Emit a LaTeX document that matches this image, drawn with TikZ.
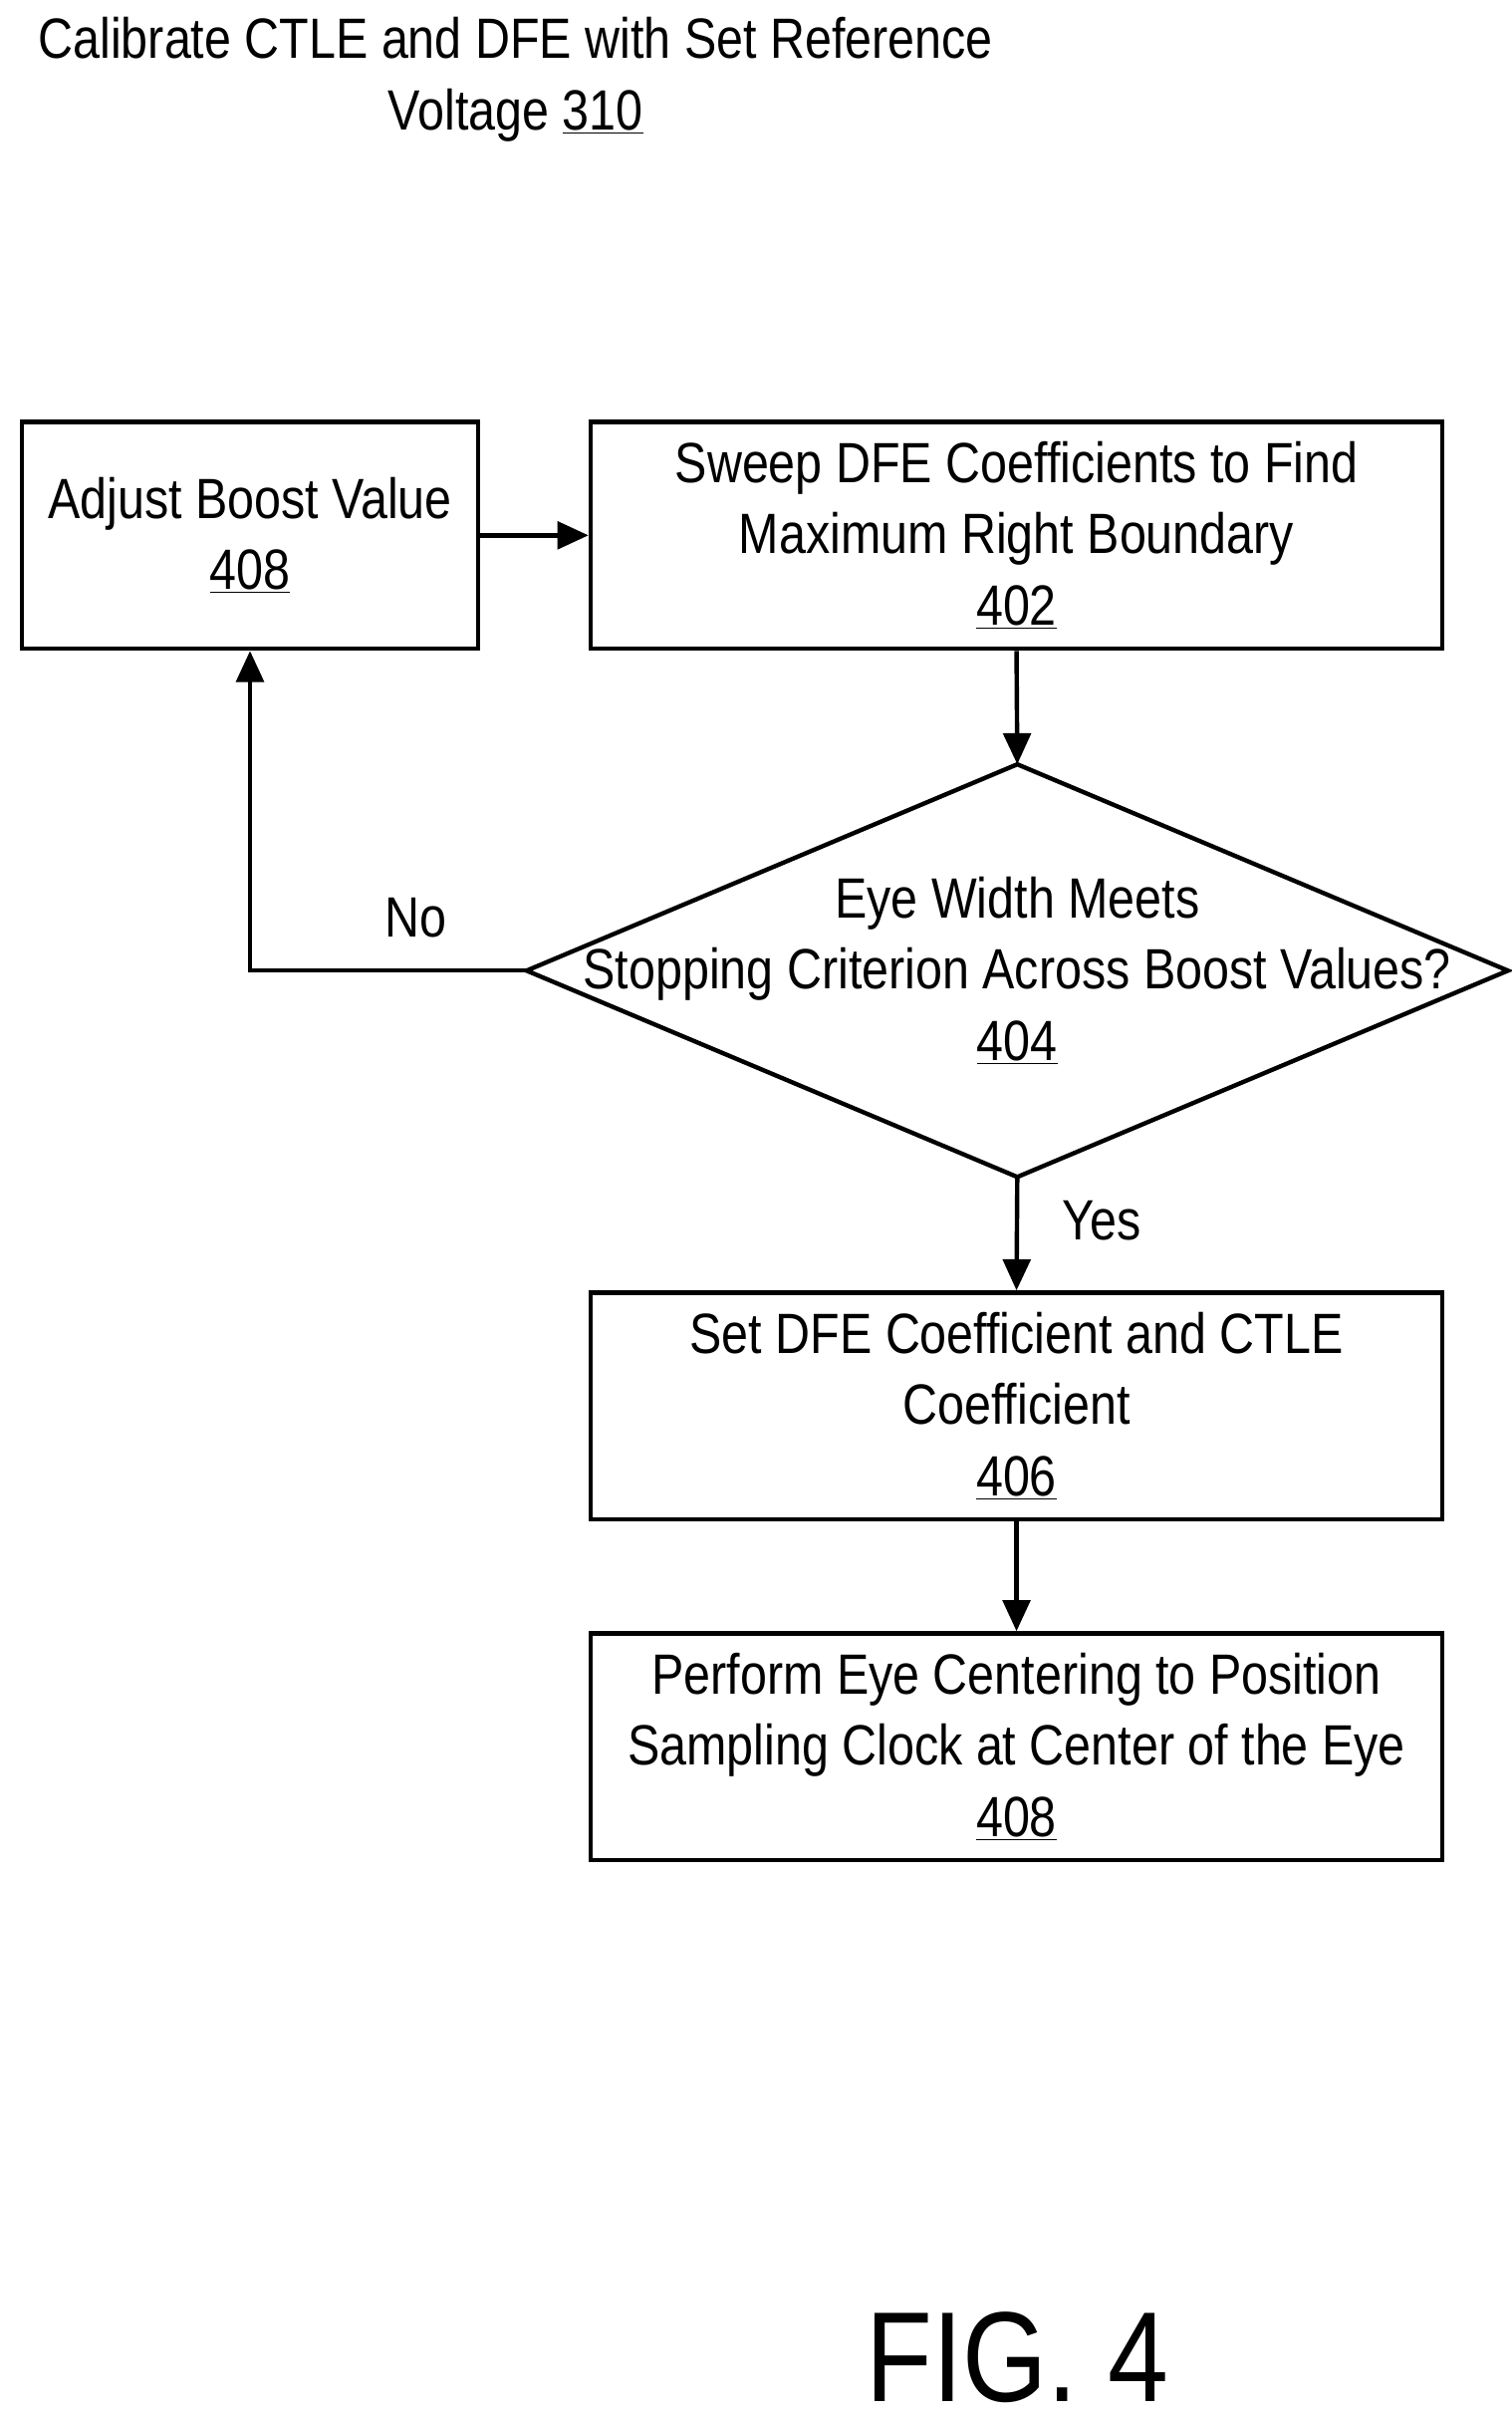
\documentclass[tikz,border=0pt]{standalone}
\usepackage{fontspec}
\setmainfont[FakeStretch=0.85]{Liberation Sans}
\usetikzlibrary{arrows.meta,shapes.geometric}
\begin{document}
\begin{tikzpicture}[x=0.03cm,y=-0.03cm,
  box/.style={draw,line width=2.4pt,minimum width=16.35cm,minimum height=4.35cm,align=center,inner sep=0pt,font=\fontsize{31}{39}\selectfont},
  lbl/.style={font=\fontsize{31}{39}\selectfont,inner sep=0pt},
  arr/.style={line width=2.4pt,-{Triangle[length=17pt,width=15pt]}}]
\useasboundingbox (0,0) rectangle (967,1547);
\node[lbl,align=center] (title) at (330,51) {Calibrate CTLE and DFE with Set Reference\\Voltage \underline{310}};
\node[box,minimum width=8.76cm] (b408a) at (160,342.5) {Adjust Boost Value\\\underline{408}};
\node[box] (b402) at (650.5,342.5) {Sweep DFE Coefficients to Find\\Maximum Right Boundary\\\underline{402}};
\draw[line width=2.4pt] (337,621) coordinate (dw) -- (651,489) coordinate (dn) -- (965,621) -- (651,753) coordinate (ds) -- cycle;
\node[lbl,align=center] (d404) at (651,621) {Eye Width Meets\\Stopping Criterion Across Boost Values?\\\underline{404}};
\node[box] (b406) at (650.5,899.5) {Set DFE Coefficient and CTLE\\Coefficient\\\underline{406}};
\node[box] (b408b) at (650.5,1117.5) {Perform Eye Centering to Position\\Sampling Clock at Center of the Eye\\\underline{408}};
\draw[arr] (b408a.east) -- (b402.west);
\draw[arr] (b402.south) -- (dn);
\draw[arr] (ds) -- (b406.north);
\draw[arr] (b406.south) -- (b408b.north);
\draw[arr] (dw) -| (b408a.south);
\node[lbl] (no) at (266,587) {No};
\node[lbl] (yes) at (705,781) {Yes};
\node[font=\fontsize{70}{80}\selectfont,inner sep=0pt] (fig) at (651,1508) {FIG. 4};
\end{tikzpicture}
\end{document}
